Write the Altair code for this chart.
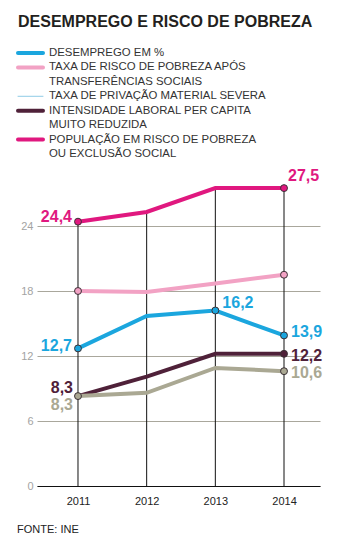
import altair as alt
import pandas as pd

years = [2011, 2012, 2013, 2014]
desemprego = [12.7, 15.7, 16.2, 13.9]
risco_apos = [18.0, 17.9, 18.7, 19.5]
privacao = [8.3, 8.6, 10.9, 10.6]
intensidade = [8.3, 10.1, 12.2, 12.2]
populacao = [24.4, 25.3, 27.5, 27.5]

series_keys = ["desemprego", "risco", "privacao", "intensidade", "populacao"]
series_values = [desemprego, risco_apos, privacao, intensidade, populacao]
legend_labels = [
    ["DESEMPREGO EM %"],
    ["TAXA DE RISCO DE POBREZA APÓS", "TRANSFERÊNCIAS SOCIAIS"],
    ["TAXA DE PRIVAÇÃO MATERIAL SEVERA"],
    ["INTENSIDADE LABORAL PER CAPITA", "MUITO REDUZIDA"],
    ["POPULAÇÃO EM RISCO DE POBREZA", "OU EXCLUSÃO SOCIAL"],
]
y_ticks = [0, 6, 12, 18, 24]
title_text = "DESEMPREGO E RISCO DE POBREZA"
source_text = "FONTE: INE"

# marked points / labels: (series, year)
marked = [("populacao", 2011), ("populacao", 2014), ("risco", 2011), ("risco", 2014),
          ("desemprego", 2011), ("desemprego", 2013), ("desemprego", 2014),
          ("intensidade", 2014), ("privacao", 2011), ("privacao", 2014)]
labelled = [("populacao", 2011), ("populacao", 2014), ("desemprego", 2011),
            ("desemprego", 2013), ("desemprego", 2014), ("intensidade", 2011),
            ("intensidade", 2014), ("privacao", 2011), ("privacao", 2014)]

# styles
colors = {"desemprego": "#1ba6de", "risco": "#f2a2c4", "privacao": "#aaa893",
          "intensidade": "#4f2139", "populacao": "#e0187f"}
legend_swatch_colors = {"desemprego": "#1ba6de", "risco": "#f2a2c4", "privacao": "#8fcbe6",
                        "intensidade": "#4f2139", "populacao": "#e0187f"}
legend_swatch_widths = {"desemprego": 4, "risco": 4, "privacao": 1, "intensidade": 4, "populacao": 4}
label_style = {
    ("populacao", 2011): ("right", -6, -5),
    ("populacao", 2014): ("left", 4, -12),
    ("desemprego", 2011): ("right", -6, -2),
    ("desemprego", 2013): ("left", 7, -8),
    ("desemprego", 2014): ("left", 7, -3),
    ("intensidade", 2011): ("right", -5, -8),
    ("intensidade", 2014): ("left", 7, 2),
    ("privacao", 2011): ("right", -5, 9),
    ("privacao", 2014): ("left", 7, 2),
}
FONT = "Liberation Sans"

rows = []
for k, vals in zip(series_keys, series_values):
    for y, v in zip(years, vals):
        rows.append({"series": k, "year": y, "value": v,
                     "label": f"{v:.1f}".replace(".", ",")})
df = pd.DataFrame(rows)

color_scale = alt.Scale(domain=series_keys, range=[colors[k] for k in series_keys])
xs = alt.Scale(domain=[2010.403, 2014.524], nice=False, zero=False)
ys = alt.Scale(domain=[0, 29.17], nice=False, zero=True)
xaxis = alt.Axis(values=years, format="d", grid=False, ticks=False,
                 domainColor="#111", domainWidth=1.2, labelFontSize=11,
                 labelColor="#222", labelPadding=9, title=None, labelFont=FONT)
yaxis = alt.Axis(values=y_ticks, grid=True, gridColor="#a9a79c",
                 gridWidth=1, domain=False, ticks=False, zindex=0,
                 labelColor="#a3a3a3", labelFontSize=11,
                 labelPadding=4, title=None, labelFont=FONT)
X = alt.X("year:Q", scale=xs, axis=xaxis)
Y = alt.Y("value:Q", scale=ys, axis=yaxis)

base = alt.Chart(df)

rules = base.transform_aggregate(top="max(value)", groupby=["year"]).mark_rule(
    color="#111", strokeWidth=1).encode(x=X, y=alt.Y("top:Q", scale=ys, axis=yaxis), y2=alt.datum(0))

line_order = ["risco", "intensidade", "privacao", "desemprego", "populacao"]
lines = []
for k in line_order:
    lines.append(base.transform_filter(alt.datum.series == k).mark_line(
        strokeWidth=4, color=colors[k]).encode(x=X, y=Y, order="year:Q"))

mk = pd.DataFrame(marked, columns=["series", "year"]).merge(df, on=["series", "year"])
points = alt.Chart(mk).mark_circle(size=48, opacity=1, stroke="#3a3136", strokeWidth=1).encode(
    x=X, y=Y, fill=alt.Fill("series:N", scale=color_scale, legend=None))

labels = []
lb = pd.DataFrame(labelled, columns=["series", "year"]).merge(df, on=["series", "year"])
for (k, yr) in labelled:
    al, dx, dy = label_style[(k, yr)]
    sub = lb[(lb.series == k) & (lb.year == yr)]
    labels.append(alt.Chart(sub).mark_text(
        align=al, baseline="middle", dx=dx, dy=dy, fontSize=16, fontWeight="bold",
        font=FONT, color=colors[k]).encode(x=X, y=Y, text="label:N"))

# title, legend, source (outside plot area)
extras = []
extras.append(alt.Chart(pd.DataFrame({"t": [title_text]})).mark_text(
    align="left", baseline="middle", fontSize=16, fontWeight="bold", font=FONT, color="#231f20"
).encode(x=alt.value(-19), y=alt.value(-148), text="t:N"))

line_idx = 0
row_y0, row_step = -117, 14.43
for k, lines_txt in zip(series_keys, legend_labels):
    yy = row_y0 + line_idx * row_step
    extras.append(alt.Chart(pd.DataFrame({"k": [k]})).mark_rule(
        color=legend_swatch_colors[k], strokeWidth=legend_swatch_widths[k], strokeCap="round"
    ).encode(x=alt.value(-19), x2=alt.value(6), y=alt.value(yy)))
    for t in lines_txt:
        yy = row_y0 + line_idx * row_step
        extras.append(alt.Chart(pd.DataFrame({"t": [t]})).mark_text(
            align="left", baseline="middle", fontSize=11.4, font=FONT, color="#333"
        ).encode(x=alt.value(12), y=alt.value(yy), text="t:N"))
        line_idx += 1

extras.append(alt.Chart(pd.DataFrame({"t": [source_text]})).mark_text(
    align="left", baseline="middle", fontSize=11, font=FONT, color="#222"
).encode(x=alt.value(-20), y=alt.value(360), text="t:N"))

chart = alt.layer(rules, *lines, points, *labels, *extras).properties(
    width=283, height=316,
    autosize=alt.AutoSizeParams(type="none"),
    padding={"left": 37, "top": 170, "right": 23, "bottom": 58},
    background="white",
).configure_view(stroke=None)

chart.save("out.html", embed_options={"renderer": "svg", "actions": False})
